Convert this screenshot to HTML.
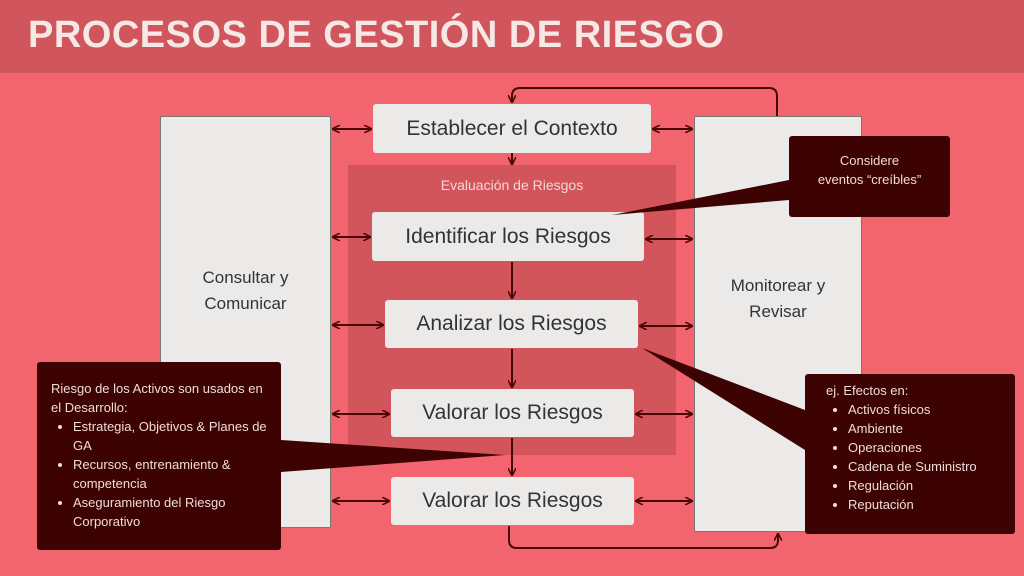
<!DOCTYPE html><html><head><meta charset="utf-8"><style>
body{margin:0;width:1024px;height:576px;overflow:hidden;background:#f2646e;font-family:"Liberation Sans",sans-serif;position:relative}
.a{position:absolute;box-sizing:border-box}
.hd{left:0;top:0;width:1024px;height:73px;background:#d0555c}
.t{left:28px;top:14px;color:#f6e8e4;font-size:38px;font-weight:bold;letter-spacing:0.5px}
.bx{background:#eceae8;border-radius:3px;color:#333;display:flex;align-items:center;justify-content:center;font-size:21px}
.tall{background:#eceae8;border:1px solid #777;border-radius:2px;color:#333;font-size:17px;text-align:center;line-height:26px;display:flex;align-items:center;justify-content:center}
.dk{background:#3d0303;color:#f0dcd8;border-radius:3px;font-size:13px;line-height:19px}
ul{margin:0;padding-left:22px}
</style></head><body>
<div class="a hd"></div><div class="a t">PROCESOS DE GESTIÓN DE RIESGO</div>
<div class="a" style="left:348px;top:165px;width:328px;height:290px;background:#d1555b"></div>
<div class="a" style="left:348px;top:177px;width:328px;text-align:center;color:#f2d8d6;font-size:14px">Evaluación de Riesgos</div>
<div class="a tall" style="left:160px;top:116px;width:171px;height:412px;padding-bottom:62px">Consultar y<br>Comunicar</div>
<div class="a tall" style="left:694px;top:116px;width:168px;height:416px;padding-bottom:50px">Monitorear y<br>Revisar</div>
<div class="a bx" style="left:373px;top:104px;width:278px;height:49px">Establecer el Contexto</div>
<div class="a bx" style="left:372px;top:212px;width:272px;height:49px">Identificar los Riesgos</div>
<div class="a bx" style="left:385px;top:300px;width:253px;height:48px">Analizar los Riesgos</div>
<div class="a bx" style="left:391px;top:389px;width:243px;height:48px">Valorar los Riesgos</div>
<div class="a bx" style="left:391px;top:477px;width:243px;height:48px">Valorar los Riesgos</div>
<svg class="a" style="left:0;top:0" width="1024" height="576">
<defs><marker id="m" markerWidth="8" markerHeight="8" refX="7" refY="4" orient="auto-start-reverse" markerUnits="userSpaceOnUse"><path d="M0,0 L8,4 L0,8" fill="none" stroke="#4a0606" stroke-width="1.6"/></marker></defs>
<g stroke="#4a0606" stroke-width="2" fill="none">
<path d="M333,129H371" marker-start="url(#m)" marker-end="url(#m)"/>
<path d="M653,129H692" marker-start="url(#m)" marker-end="url(#m)"/>
<path d="M333,237H370" marker-start="url(#m)" marker-end="url(#m)"/>
<path d="M646,239H692" marker-start="url(#m)" marker-end="url(#m)"/>
<path d="M333,325H383" marker-start="url(#m)" marker-end="url(#m)"/>
<path d="M640,326H692" marker-start="url(#m)" marker-end="url(#m)"/>
<path d="M333,414H389" marker-start="url(#m)" marker-end="url(#m)"/>
<path d="M636,414H692" marker-start="url(#m)" marker-end="url(#m)"/>
<path d="M333,501H389" marker-start="url(#m)" marker-end="url(#m)"/>
<path d="M636,501H692" marker-start="url(#m)" marker-end="url(#m)"/>
<path d="M512,153V164" marker-end="url(#m)"/>
<path d="M512,262V298" marker-end="url(#m)"/>
<path d="M512,349V387" marker-end="url(#m)"/>
<path d="M512,438V475" marker-end="url(#m)"/>
<path d="M777,116V96Q777,88 769,88H520Q512,88 512,96V102" marker-end="url(#m)"/>
<path d="M509,526V540Q509,548 517,548H770Q778,548 778,540V534" marker-end="url(#m)"/>
</g>
<polygon points="789,180 789,200 612,215" fill="#3d0303"/>
<polygon points="281,440 281,472 505,455" fill="#3d0303"/>
<polygon points="805,410 805,450 642,348" fill="#3d0303"/>
</svg>
<div class="a dk" style="left:789px;top:136px;width:161px;height:81px;text-align:center;padding-top:15px">Considere<br>eventos “creíbles”</div>
<div class="a dk" style="left:37px;top:362px;width:244px;height:188px;padding:17px 10px 0 14px">Riesgo de los Activos son usados en el Desarrollo:<ul><li>Estrategia, Objetivos &amp; Planes de GA</li><li>Recursos, entrenamiento &amp; competencia</li><li>Aseguramiento del Riesgo Corporativo</li></ul></div>
<div class="a dk" style="left:805px;top:374px;width:210px;height:160px;padding:7px 0 0 21px">ej. Efectos en:<ul><li>Activos físicos</li><li>Ambiente</li><li>Operaciones</li><li>Cadena de Suministro</li><li>Regulación</li><li>Reputación</li></ul></div>
</body></html>
